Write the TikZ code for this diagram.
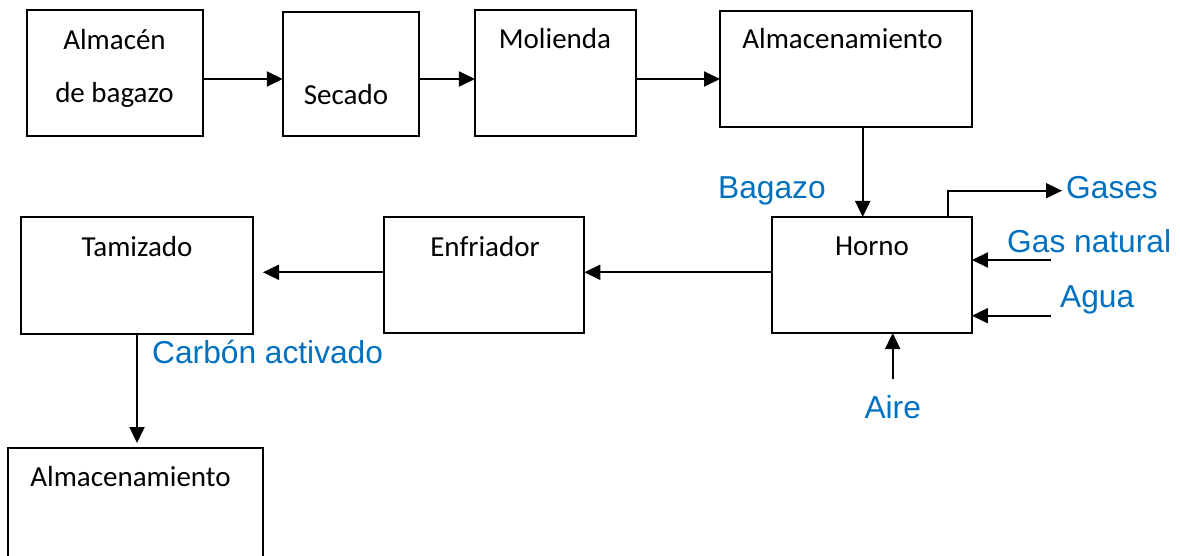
\documentclass[tikz,border=0pt]{standalone}
\usepackage{fontspec}
\setmainfont{Carlito}
\newfontfamily\labelfont{Liberation Sans}
\usetikzlibrary{arrows.meta}
\definecolor{flowblue}{HTML}{0070C0}
\tikzset{
  box/.style={draw, line width=1.9pt, rectangle, inner sep=0pt, outer sep=0pt},
  boxtext/.style={anchor=base, inner sep=0pt, font=\fontsize{29}{34}\selectfont},
  flowlabel/.style={inner sep=0pt, text=flowblue, font=\labelfont\fontsize{31.7}{36}\selectfont},
  arr/.style={line width=1.9pt, -{Triangle[length=16pt,width=15pt]}},
  plain/.style={line width=1.9pt}
}
\begin{document}
\begin{tikzpicture}[x=1pt,y=-1pt]
\clip (0,0) rectangle (1180,556);
\useasboundingbox (0,0) rectangle (1180,556);

% process boxes
\node[box, minimum width=176pt, minimum height=126pt] (alm) at (114.7,73) {};
\node[box, minimum width=136.3pt, minimum height=123.7pt] (sec) at (350.9,74.2) {};
\node[box, minimum width=160.7pt, minimum height=126pt] (mol) at (555.3,73) {};
\node[box, minimum width=252pt, minimum height=116pt] (alm2) at (846,68.7) {};
\node[box, minimum width=200.3pt, minimum height=116pt] (horno) at (871.8,275) {};
\node[box, minimum width=200.3pt, minimum height=116pt] (enf) at (484.2,275) {};
\node[box, minimum width=232.3pt, minimum height=117pt] (tam) at (136.8,275.5) {};
\node[box, minimum width=255pt, minimum height=140pt] (alm3) at (135.8,517.7) {};

% box captions
\node[boxtext] (t-alm1) at (114.5,49.3) {Almacén};
\node[boxtext] (t-alm2) at (114.5,103) {de bagazo};
\node[boxtext] (t-sec) at (346,105) {Secado};
\node[boxtext] (t-mol) at (555,48.3) {Molienda};
\node[boxtext] (t-almA) at (842.5,49) {Almacenamiento};
\node[boxtext] (t-hor) at (872,255.7) {Horno};
\node[boxtext] (t-enf) at (485,256) {Enfriador};
\node[boxtext] (t-tam) at (137,256) {Tamizado};
\node[boxtext] (t-almB) at (130.5,486) {Almacenamiento};

% stream labels
\node[flowlabel, anchor=base west] (l-bag) at (718,198.3) {Bagazo};
\node[flowlabel, anchor=base west] (l-gas) at (1066,198.3) {Gases};
\node[flowlabel, anchor=base west] (l-gn) at (1007,252.7) {Gas natural};
\node[flowlabel, anchor=base west] (l-agua) at (1060,307.7) {Agua};
\node[flowlabel, anchor=base] (l-aire) at (892.7,418.3) {Aire};
\node[flowlabel, anchor=base west] (l-carb) at (152,363.3) {Carbón activado};

% free ends of the streams
\coordinate (gasout) at (1062,190.7);
\coordinate (gnin) at (1051,260);
\coordinate (aguain) at (1051,315.7);
\coordinate (airein) at (892.7,379);
\coordinate (tamin) at (263,272.3);
\coordinate (almBin) at (137,443);

% main line
\draw[arr] (alm.east |- 0,79) -- (sec.west |- 0,79);
\draw[arr] (sec.east |- 0,79) -- (mol.west |- 0,79);
\draw[arr] (mol.east |- 0,79) -- (alm2.west |- 0,79);
\draw[arr] (alm2.south -| 862.7,0) -- (horno.north -| 862.7,0);
\draw[arr] (horno.west |- 0,272.3) -- (enf.east |- 0,272.3);
\draw[arr] (enf.west |- 0,272.3) -- (tamin);
\draw[arr] (tam.south -| 137,0) -- (almBin);

% furnace streams
\draw[arr] (horno.north -| 833,0) -- (horno.north -| 948,0) |- (gasout);
\draw[arr] (gnin) -- (horno.east |- gnin);
\draw[arr] (aguain) -- (horno.east |- aguain);
\draw[arr] (airein) -- (horno.south -| airein);
\end{tikzpicture}
\end{document}
